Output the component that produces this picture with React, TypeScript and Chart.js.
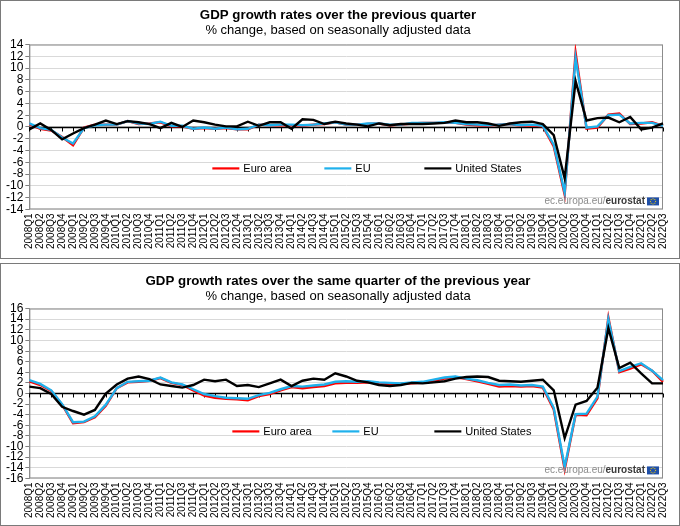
import React, { useEffect, useRef } from "react";
import { Chart, registerables } from "chart.js";

Chart.register(...registerables);
Chart.defaults.font.family = "'Liberation Sans', Arial, sans-serif";

const quarters: string[] = [
  "2008Q1", "2008Q2", "2008Q3", "2008Q4",
  "2009Q1", "2009Q2", "2009Q3", "2009Q4",
  "2010Q1", "2010Q2", "2010Q3", "2010Q4",
  "2011Q1", "2011Q2", "2011Q3", "2011Q4",
  "2012Q1", "2012Q2", "2012Q3", "2012Q4",
  "2013Q1", "2013Q2", "2013Q3", "2013Q4",
  "2014Q1", "2014Q2", "2014Q3", "2014Q4",
  "2015Q1", "2015Q2", "2015Q3", "2015Q4",
  "2016Q1", "2016Q2", "2016Q3", "2016Q4",
  "2017Q1", "2017Q2", "2017Q3", "2017Q4",
  "2018Q1", "2018Q2", "2018Q3", "2018Q4",
  "2019Q1", "2019Q2", "2019Q3", "2019Q4",
  "2020Q1", "2020Q2", "2020Q3", "2020Q4",
  "2021Q1", "2021Q2", "2021Q3", "2021Q4",
  "2022Q1", "2022Q2", "2022Q3",
];

const seriesNames: string[] = ["Euro area", "EU", "United States"];
const seriesColors: string[] = ["#ff0000", "#1fb1ec", "#000000"];

// Quarter-on-quarter growth (%)
const qoqEuroArea: number[] = [
  0.5, -0.3, -0.6, -1.7,
  -3.1, -0.1, 0.4, 0.4,
  0.4, 1.0, 0.5, 0.6,
  0.8, 0.1, 0.1, -0.3,
  -0.2, -0.3, -0.2, -0.4,
  -0.4, 0.4, 0.3, 0.3,
  0.3, 0.2, 0.4, 0.5,
  0.8, 0.4, 0.4, 0.5,
  0.6, 0.3, 0.4, 0.6,
  0.7, 0.7, 0.7, 0.7,
  0.4, 0.3, 0.2, 0.4,
  0.5, 0.2, 0.3, 0.1,
  -3.3, -11.5, 12.6, -0.3,
  -0.1, 2.1, 2.3, 0.5,
  0.6, 0.8, 0.2,
];
const qoqEU: number[] = [
  0.6, -0.2, -0.5, -1.8,
  -2.8, -0.2, 0.3, 0.4,
  0.4, 1.0, 0.6, 0.5,
  0.9, 0.2, 0.2, -0.3,
  -0.1, -0.3, -0.1, -0.4,
  -0.3, 0.4, 0.3, 0.4,
  0.4, 0.3, 0.4, 0.6,
  0.8, 0.4, 0.4, 0.6,
  0.6, 0.4, 0.4, 0.7,
  0.7, 0.7, 0.8, 0.7,
  0.5, 0.4, 0.3, 0.4,
  0.5, 0.3, 0.4, 0.2,
  -3.0, -11.1, 11.7, -0.1,
  0.1, 2.0, 2.1, 0.6,
  0.7, 0.7, 0.2,
];
const qoqUS: number[] = [
  -0.4, 0.6, -0.5, -2.1,
  -1.1, -0.2, 0.4, 1.1,
  0.5, 1.0, 0.8, 0.5,
  -0.2, 0.7, 0.0, 1.1,
  0.8, 0.4, 0.1, 0.1,
  0.9, 0.2, 0.8, 0.8,
  -0.3, 1.3, 1.2, 0.5,
  0.9, 0.6, 0.4, 0.1,
  0.6, 0.3, 0.5, 0.5,
  0.5, 0.6, 0.7, 1.1,
  0.8, 0.8, 0.6, 0.2,
  0.6, 0.8, 0.9, 0.5,
  -1.4, -8.7, 7.8, 1.1,
  1.5, 1.6, 0.8, 1.7,
  -0.4, -0.1, 0.6,
];

// Year-on-year growth (%)
const yoyEuroArea: number[] = [
  2.3, 1.6, 0.5, -2.1,
  -5.6, -5.4, -4.5, -2.3,
  1.0, 2.1, 2.2, 2.4,
  2.9, 2.0, 1.6, 0.6,
  -0.4, -0.8, -1.0, -1.1,
  -1.3, -0.5, -0.1, 0.6,
  1.2, 1.0, 1.2, 1.4,
  1.9, 2.0, 2.0, 2.1,
  1.9, 1.8, 1.8, 1.9,
  2.0, 2.4, 2.8, 3.1,
  2.7, 2.3, 1.8, 1.3,
  1.4, 1.3, 1.4, 1.1,
  -3.0, -14.3, -4.0, -4.1,
  -0.9, 14.3, 4.0, 4.7,
  5.5, 4.3, 2.2,
];
const yoyEU: number[] = [
  2.5, 1.8, 0.6, -2.0,
  -5.4, -5.3, -4.3, -2.1,
  1.0, 2.2, 2.3, 2.4,
  3.0, 2.1, 1.7, 0.8,
  -0.1, -0.5, -0.8, -0.9,
  -1.0, -0.3, 0.1, 0.8,
  1.4, 1.3, 1.5, 1.7,
  2.2, 2.3, 2.2, 2.3,
  2.1, 2.0, 1.9, 2.1,
  2.2, 2.6, 3.0, 3.2,
  2.8, 2.5, 2.0, 1.6,
  1.7, 1.5, 1.6, 1.3,
  -2.7, -13.8, -3.9, -3.8,
  -0.6, 14.0, 4.2, 5.0,
  5.7, 4.3, 2.5,
];
const yoyUS: number[] = [
  1.3, 1.0, -0.1, -2.5,
  -3.3, -4.0, -3.1, 0.0,
  1.7, 2.8, 3.2, 2.7,
  1.7, 1.4, 1.1, 1.6,
  2.6, 2.3, 2.6, 1.4,
  1.6, 1.2, 1.9, 2.6,
  1.4, 2.4, 2.8, 2.6,
  3.8, 3.2, 2.4, 2.1,
  1.6, 1.4, 1.6, 2.0,
  1.9, 2.1, 2.3, 2.8,
  3.1, 3.2, 3.1, 2.4,
  2.3, 2.2, 2.4, 2.6,
  0.6, -8.4, -2.1, -1.4,
  1.1, 12.3, 4.8, 5.8,
  3.8, 1.9, 1.9,
];

const frameAndZeroPlugin = {
  id: "frameAndZero",
  beforeDatasetsDraw(chart: any) {
    const { ctx, chartArea: a, scales } = chart;
    const x = scales.x;
    const y = scales.y;
    ctx.save();
    ctx.strokeStyle = "#8c8c8c";
    ctx.lineWidth = 1;
    ctx.strokeRect(a.left + 0.5, a.top + 0.5, a.width - 1, a.height - 1);
    const y0 = Math.round(y.getPixelForValue(0)) + 0.5;
    ctx.strokeStyle = "#000";
    ctx.lineWidth = 1.3;
    ctx.beginPath();
    ctx.moveTo(a.left, y0);
    ctx.lineTo(a.right, y0);
    ctx.stroke();
    ctx.lineWidth = 1;
    ctx.beginPath();
    for (let i = 0; i < chart.data.labels.length; i++) {
      const px = Math.round(x.getPixelForValue(i)) + 0.5;
      ctx.moveTo(px, y0);
      ctx.lineTo(px, y0 + 4);
    }
    ctx.stroke();
    ctx.restore();
  },
};

const overlayPlugin = {
  id: "overlay",
  afterDraw(chart: any, _args: any, opts: any) {
    const { ctx, chartArea: a } = chart;
    ctx.save();
    const ly = a.bottom - opts.legendUp;
    ctx.font = "11px 'Liberation Sans', Arial, sans-serif";
    ctx.textBaseline = "middle";
    chart.data.datasets.forEach((ds: any, i: number) => {
      const lx = a.left + opts.legendX[i];
      ctx.strokeStyle = ds.borderColor;
      ctx.lineWidth = 2.2;
      ctx.beginPath();
      ctx.moveTo(lx, ly);
      ctx.lineTo(lx + 27, ly);
      ctx.stroke();
      ctx.fillStyle = "#000";
      ctx.fillText(ds.label, lx + 31, ly + 0.5);
    });
    const wy = a.bottom - 8;
    const flagW = 12;
    const flagH = 8;
    const right = a.right - 4;
    ctx.font = "bold 10px 'Liberation Sans', Arial, sans-serif";
    const w2 = ctx.measureText("eurostat").width;
    ctx.font = "10px 'Liberation Sans', Arial, sans-serif";
    const w1 = ctx.measureText("ec.europa.eu/").width;
    const start = right - flagW - 2 - w2 - w1;
    ctx.fillStyle = "#8a8a8a";
    ctx.fillText("ec.europa.eu/", start, wy);
    ctx.font = "bold 10px 'Liberation Sans', Arial, sans-serif";
    ctx.fillStyle = "#3a3a3a";
    ctx.fillText("eurostat", start + w1, wy);
    const fx = right - flagW;
    ctx.fillStyle = "#1f4fa8";
    ctx.fillRect(fx, wy - flagH / 2, flagW, flagH);
    ctx.fillStyle = "#ffd400";
    for (let k = 0; k < 8; k++) {
      const ang = (k / 8) * Math.PI * 2;
      ctx.fillRect(fx + 6 + Math.cos(ang) * 2.6 - 0.5, wy + Math.sin(ang) * 2.6 - 0.5, 1, 1);
    }
    ctx.restore();
  },
};

type PanelProps = {
  top: number;
  height: number;
  title: string;
  subtitle: string;
  values: number[][];
  yMin: number;
  yMax: number;
  titleTop: number;
  subBottom: number;
  padBottom: number;
  legendX: number[];
  legendUp: number;
};

function Panel(p: PanelProps) {
  const ref = useRef<HTMLCanvasElement | null>(null);
  useEffect(() => {
    if (!ref.current) return;
    const chart = new Chart(ref.current, {
      type: "line",
      data: {
        labels: quarters,
        datasets: seriesNames.map((name, i) => ({
          label: name,
          data: p.values[i],
          borderColor: seriesColors[i],
          backgroundColor: seriesColors[i],
          borderWidth: 2.4,
          pointRadius: 0,
          tension: 0,
          fill: false,
          order: 3 - i,
        })),
      },
      options: {
        animation: false,
        responsive: false,
        events: [],
        layout: { padding: { left: 3, right: 7, top: 0, bottom: p.padBottom } },
        plugins: {
          legend: { display: false },
          tooltip: { enabled: false },
          title: {
            display: true,
            text: p.title,
            color: "#000",
            font: { size: 13.3, weight: "bold" },
            padding: { top: p.titleTop, bottom: 0 },
          },
          subtitle: {
            display: true,
            text: p.subtitle,
            color: "#000",
            font: { size: 13 },
            padding: { top: 0, bottom: p.subBottom },
          },
          overlay: { legendX: p.legendX, legendUp: p.legendUp },
        } as any,
        scales: {
          x: {
            type: "category",
            offset: false,
            grid: { display: false, drawTicks: false },
            border: { display: false },
            ticks: {
              autoSkip: false,
              maxRotation: 90,
              minRotation: 90,
              color: "#000",
              font: { size: 10 },
              padding: 4,
            },
          },
          y: {
            min: p.yMin,
            max: p.yMax,
            grid: {
              color: "#d9d9d9",
              lineWidth: 1,
              tickColor: "#7f7f7f",
              tickLength: 4,
            },
            border: { display: true, color: "#8c8c8c" },
            ticks: {
              stepSize: 2,
              autoSkip: false,
              color: "#000",
              font: { size: 12 },
              padding: 2,
            },
          },
        },
      },
      plugins: [frameAndZeroPlugin, overlayPlugin],
    });
    return () => chart.destroy();
  }, []);
  return (
    <div
      style={{
        position: "absolute",
        left: 0,
        top: p.top,
        width: 680,
        height: p.height,
        boxSizing: "border-box",
        border: "1px solid #7a7a7a",
        background: "#fff",
      }}
    >
      <canvas ref={ref} width={678} height={p.height - 2} style={{ display: "block" }} />
    </div>
  );
}

export default function App() {
  useEffect(() => {
    document.body.style.margin = "0";
  }, []);
  return (
    <div style={{ position: "relative", width: 680, height: 526, background: "#fff" }}>
      <Panel
        top={0}
        height={259}
        title="GDP growth rates over the previous quarter"
        subtitle="% change, based on seasonally adjusted data"
        values={[qoqEuroArea, qoqEU, qoqUS]}
        yMin={-14}
        yMax={14}
        titleTop={6}
        subBottom={6}
        padBottom={5}
        legendX={[183, 295, 395]}
        legendUp={41}
      />
      <Panel
        top={263}
        height={263}
        title="GDP growth rates over the same quarter of the previous year"
        subtitle="% change, based on seasonally adjusted data"
        values={[yoyEuroArea, yoyEU, yoyUS]}
        yMin={-16}
        yMax={16}
        titleTop={9}
        subBottom={4}
        padBottom={3}
        legendX={[203, 303, 405]}
        legendUp={47}
      />
    </div>
  );
}
